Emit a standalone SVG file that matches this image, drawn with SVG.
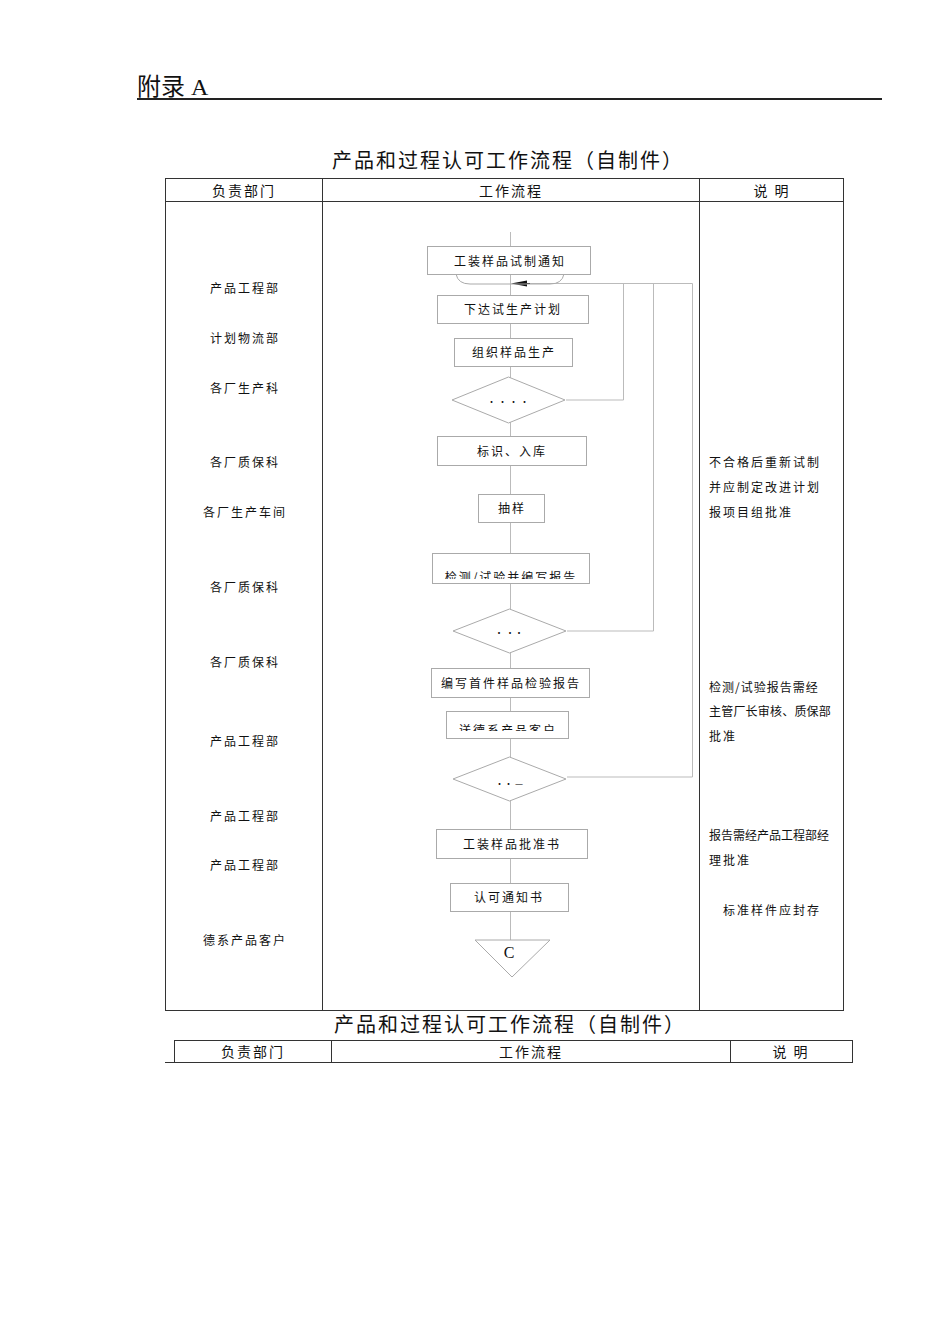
<svg xmlns="http://www.w3.org/2000/svg" width="950" height="1344" viewBox="0 0 950 1344">
<style>
text{font-family:"Noto Sans CJK SC","Liberation Serif",serif;fill:#111}
.t{font-size:12px;letter-spacing:2px;text-anchor:middle}
.l{font-size:12px;letter-spacing:2px}
.h{font-size:14px;letter-spacing:2px;text-anchor:middle}
.ti{font-size:20px;letter-spacing:2px;text-anchor:middle}
.box{fill:#fff;stroke:#aaa;stroke-width:1}
.cn{fill:none;stroke:#bbb;stroke-width:1}
.tb{fill:none;stroke:#333;stroke-width:1}
.d{font-size:9px;text-anchor:middle}
</style>
<defs>
<clipPath id="c6"><rect x="432" y="553" width="157" height="26"/></clipPath>
<clipPath id="c8"><rect x="446" y="711" width="122" height="20"/></clipPath>
</defs>
<rect width="950" height="1344" fill="#fff"/>
<g id="header">
<text x="137" y="95" style="font-family:'Liberation Serif','Noto Sans CJK SC',serif;font-size:24px">附录 A</text>
<line x1="137" y1="99" x2="882" y2="99" stroke="#222" stroke-width="2"/>
</g>
<g id="table1">
<text class="ti" x="508" y="168">产品和过程认可工作流程（自制件）</text>
<rect class="tb" x="165.5" y="178.5" width="678" height="832"/>
<line class="tb" x1="165" y1="201.5" x2="844" y2="201.5"/>
<line class="tb" x1="322.5" y1="178" x2="322.5" y2="1010"/>
<line class="tb" x1="699.5" y1="178" x2="699.5" y2="1010"/>
<text class="h" x="244" y="196">负责部门</text>
<text class="h" x="511" y="196">工作流程</text>
<text class="h" x="772" y="196">说 明</text>
</g>
<g id="departments">
<text class="t" x="245" y="293">产品工程部</text>
<text class="t" x="245" y="343">计划物流部</text>
<text class="t" x="245" y="393">各厂生产科</text>
<text class="t" x="245" y="467">各厂质保科</text>
<text class="t" x="245" y="517">各厂生产车间</text>
<text class="t" x="245" y="592">各厂质保科</text>
<text class="t" x="245" y="667">各厂质保科</text>
<text class="t" x="245" y="746">产品工程部</text>
<text class="t" x="245" y="821">产品工程部</text>
<text class="t" x="245" y="870">产品工程部</text>
<text class="t" x="245" y="945">德系产品客户</text>
</g>
<g id="connectors">
<line class="cn" x1="510.5" y1="232" x2="510.5" y2="940"/>
<polyline class="cn" points="566,400 623.5,400 623.5,283.5"/>
<polyline class="cn" points="567,631 653.5,631 653.5,283.5"/>
<polyline class="cn" points="567,777 692.5,777 692.5,283.5 526,283.5"/>
<line x1="526" y1="283.5" x2="530" y2="283.5" stroke="#111" stroke-width="1"/>
<polygon points="511,283.5 527,280.5 527,286.5" fill="#111"/>
</g>
<g id="n1">
<path d="M456,274 Q458,284 470,284 L550,284 Q562,284 564,274" fill="none" stroke="#aaa" stroke-width="1"/>
<rect class="box" x="427.5" y="246.5" width="163" height="28"/>
<text class="t" x="510" y="266">工装样品试制通知</text>
</g>
<g id="n2"><rect class="box" x="437.5" y="295.5" width="151" height="28"/><text class="t" x="513" y="314">下达试生产计划</text></g>
<g id="n3"><rect class="box" x="454.5" y="338.5" width="118" height="28"/><text class="t" x="514" y="357">组织样品生产</text></g>
<g id="d1"><polygon class="box" points="452,400 508.5,377 565,400 508.5,423"/><text class="d" x="508" y="405">· ·  ·  ·</text></g>
<g id="n4"><rect class="box" x="437.5" y="436.5" width="149" height="29"/><text class="t" x="512" y="456">标识、入库</text></g>
<g id="n5"><rect class="box" x="478.5" y="494.5" width="66" height="28"/><text class="t" x="512" y="513">抽样</text></g>
<g id="n6"><rect class="box" x="432.5" y="553.5" width="157" height="30"/><text class="t" x="511" y="582" clip-path="url(#c6)">检测/试验并编写报告</text></g>
<g id="d2"><polygon class="box" points="453,631 509.5,609 566,631 509.5,653"/><text class="d" x="509" y="636">·  ··</text></g>
<g id="n7"><rect class="box" x="431.5" y="668.5" width="158" height="29"/><text class="t" x="511" y="688">编写首件样品检验报告</text></g>
<g id="n8"><rect class="box" x="446.5" y="711.5" width="122" height="27"/><text class="t" x="508" y="735" clip-path="url(#c8)">送德系产品客户</text></g>
<g id="d3"><polygon class="box" points="453,779 509.5,757 566,779 509.5,801"/><text class="d" x="509" y="787">··   —</text></g>
<g id="n9"><rect class="box" x="436.5" y="829.5" width="151" height="29"/><text class="t" x="512" y="849">工装样品批准书</text></g>
<g id="n10"><rect class="box" x="450.5" y="883.5" width="118" height="28"/><text class="t" x="509" y="902">认可通知书</text></g>
<g id="n11"><polygon class="box" points="475,940 550,940 512,977"/><text x="509" y="958" style="font-family:'Liberation Serif',serif;font-size:16px;text-anchor:middle">C</text></g>
<g id="notes">
<text class="l" x="709" y="467">不合格后重新试制</text>
<text class="l" x="709" y="492">并应制定改进计划</text>
<text class="l" x="709" y="517">报项目组批准</text>
<text class="l" x="709" y="692" style="letter-spacing:1px">检测/试验报告需经</text>
<text class="l" x="709" y="716" style="letter-spacing:0.2px">主管厂长审核、质保部</text>
<text class="l" x="709" y="741">批准</text>
<text class="l" x="709" y="840" style="letter-spacing:0">报告需经产品工程部经</text>
<text class="l" x="709" y="865">理批准</text>
<text class="t" x="772" y="915">标准样件应封存</text>
</g>
<g id="table2">
<text class="ti" x="510" y="1032">产品和过程认可工作流程（自制件）</text>
<rect class="tb" x="174.5" y="1040.5" width="678" height="22"/>
<line class="tb" x1="165" y1="1062.5" x2="175" y2="1062.5"/>
<line class="tb" x1="331.5" y1="1040" x2="331.5" y2="1062"/>
<line class="tb" x1="730.5" y1="1040" x2="730.5" y2="1062"/>
<text class="h" x="253" y="1057">负责部门</text>
<text class="h" x="531" y="1057">工作流程</text>
<text class="h" x="791" y="1057">说 明</text>
</g>
</svg>
